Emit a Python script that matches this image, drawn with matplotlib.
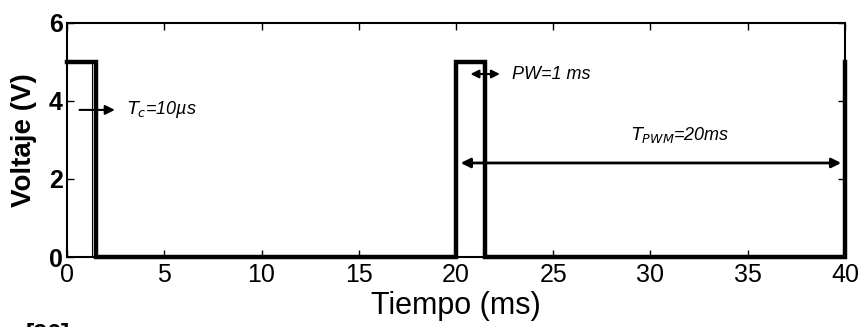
import matplotlib.pyplot as plt

# pulse train (ms, V)
t = [0, 1.5, 1.5, 20, 20, 21.5, 21.5, 40, 40]
v = [5, 5, 0, 0, 5, 5, 0, 0, 5]
x_ticks = [0, 5, 10, 15, 20, 25, 30, 35, 40]
y_ticks = [0, 2, 4, 6]

plt.rcParams['font.family'] = ['Liberation Sans', 'DejaVu Sans']

fig = plt.figure(figsize=(8.66, 3.27), dpi=100)
ax = fig.add_axes([0.0774, 0.214, 0.8983, 0.716])

ax.plot(t, v, color='black', lw=3.2, solid_joinstyle='miter', clip_on=False)
ax.plot([1.3, 1.3], [0, 5], color='black', lw=0.8)

ax.set_xlim(0, 40)
ax.set_ylim(0, 6)
ax.set_xticks(x_ticks)
ax.set_yticks(y_ticks)
ax.tick_params(direction='in', top=True, right=True, length=5, width=1,
               labelsize=18)
ax.tick_params(axis='x', pad=4)
ax.tick_params(axis='y', pad=3)
for lab in ax.get_yticklabels():
    lab.set_fontweight('bold')
for s in ax.spines.values():
    s.set_linewidth(1.5)

ax.set_xlabel('Tiempo (ms)', fontsize=22, labelpad=3)
ax.set_ylabel('Voltaje (V)', fontsize=20, fontweight='bold')
ax.yaxis.set_label_coords(-0.039, 0.5)

# annotations
ax.annotate('', xy=(2.6, 3.77), xytext=(0.5, 3.77),
            arrowprops=dict(arrowstyle='-|>', color='black', lw=1.5, mutation_scale=14))
ax.text(3.1, 3.77, r'$T_c$=10µs', fontsize=13, style='italic', va='center')

ax.annotate('', xy=(20.6, 4.69), xytext=(22.4, 4.69),
            arrowprops=dict(arrowstyle='<|-|>', color='black', lw=1.5, mutation_scale=12))
ax.text(22.9, 4.69, 'PW=1 ms', fontsize=13, style='italic', va='center')

ax.annotate('', xy=(20.1, 2.41), xytext=(39.95, 2.41),
            arrowprops=dict(arrowstyle='<|-|>', color='black', lw=2, mutation_scale=14))
ax.text(29.0, 3.13, r'$T_{PWM}$=20ms', fontsize=13, style='italic', va='center')

fig.text(0.03, -0.06, '[26]', fontsize=18, fontweight='bold', va='bottom')

fig.savefig('out.png', dpi=100)
